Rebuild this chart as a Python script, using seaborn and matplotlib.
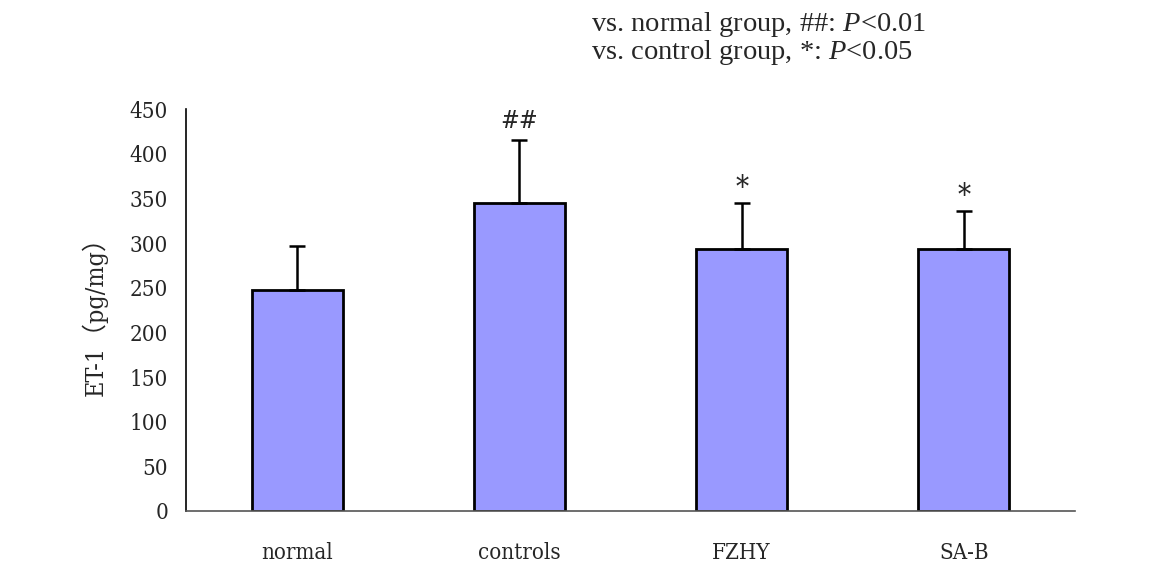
import matplotlib
matplotlib.use("Agg")
import matplotlib.pyplot as plt
import matplotlib.font_manager as fm
import seaborn as sns
import numpy as np

categories = ["normal", "controls", "FZHY", "SA-B"]
means = [248, 345, 294, 294]
sds = [49, 71, 51, 42]
marks = ["", "##", "*", "*"]
yticks = [0, 50, 100, 150, 200, 250, 300, 350, 400, 450]

sns.set_style("white")

# pick a narrow font resembling SimSun's half-width glyphs if available
have_cond = any(f.name == "DejaVu Serif" and f.stretch == "condensed" for f in fm.fontManager.ttflist)
if have_cond:
    tick_font = dict(family=["DejaVu Serif", "Noto Sans CJK SC"], stretch="condensed")
    tsize = 16
else:
    tick_font = dict(family=["Liberation Mono", "Noto Sans CJK SC"])
    tsize = 15

plt.rcParams['font.family'] = ["Liberation Serif", "Noto Sans CJK SC", "DejaVu Sans"]
plt.rcParams['mathtext.fontset'] = 'custom'
plt.rcParams['mathtext.it'] = 'Liberation Serif:italic'
plt.rcParams['mathtext.rm'] = 'Liberation Serif'

fig = plt.figure(figsize=(11.51, 5.65), dpi=100)
ax = fig.add_axes([0.1616, 0.0956, 0.934 - 0.1616, 0.8065 - 0.0956])

sns.barplot(x=categories, y=means, color="#9999FF", saturation=1, edgecolor="black",
            linewidth=2.0, width=0.41, errorbar=None, ax=ax)
xpos = np.arange(len(categories))
ax.errorbar(xpos, means, yerr=[np.zeros(len(sds)), sds], fmt="none", ecolor="black",
            elinewidth=1.8, capsize=6, capthick=1.8, zorder=3)
for x, m, s, t in zip(xpos, means, sds, marks):
    if t:
        ax.text(x, m + s + (20 if t == "##" else 17), t, ha="center", va="center",
                fontsize=18 if t == "##" else 21, **tick_font)

ax.set_xlim(-0.5, 3.5)
ax.set_ylim(0, 450)
ax.set_yticks(yticks)
ax.set_yticklabels([str(v) for v in yticks], fontsize=tsize, **tick_font)
ax.set_xticks(xpos)
ax.set_xticklabels(categories, fontsize=tsize, **tick_font)
ax.set_xticks(np.arange(-0.5, 4, 1), minor=True)
ax.tick_params(axis="x", which="major", length=0, pad=22)
ax.tick_params(axis="x", which="minor", direction="in", length=7, width=1, color="#555555")
ax.tick_params(axis="y", which="major", direction="in", length=6, width=1, color="black", pad=13)
ax.set_xlabel("")
ax.set_ylabel("ET-1（pg/mg）", fontsize=tsize + 2, **tick_font)
ax.yaxis.set_label_coords(-0.088, 0.5)

for side in ["top", "right"]:
    ax.spines[side].set_visible(False)
ax.spines["left"].set_color("black")
ax.spines["left"].set_linewidth(1.2)
ax.spines["bottom"].set_color("#555555")
ax.spines["bottom"].set_linewidth(1.2)

fig.text(591 / 1151, 1 - 31 / 565, "vs. normal group, ##: $\\it{P}$<0.01", fontsize=20.5,
         ha="left", va="baseline")
fig.text(591 / 1151, 1 - 59 / 565, "vs. control group, *: $\\it{P}$<0.05", fontsize=20.5,
         ha="left", va="baseline")

fig.savefig("out.png", dpi=100)
